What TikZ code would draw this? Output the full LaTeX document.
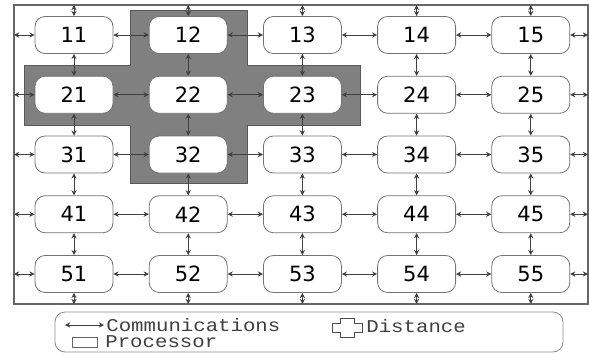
\documentclass[tikz,border=0pt]{standalone}
\usepackage{fontspec}
\setmainfont{DejaVu Sans}
\newfontfamily\legfont[FakeStretch=1.15]{Liberation Mono}
\usetikzlibrary{arrows.meta,calc}

\begin{document}
\begin{tikzpicture}[x=0.5pt,y=-0.5pt,
    proc/.style={draw=black!55, fill=white, rounded corners=5pt, minimum width=39pt,
      minimum height=18.5pt, inner sep=0pt, font=\fontsize{10.5}{10.5}\selectfont},
    link/.style={<->, >={Stealth[length=2.6pt,width=2.6pt]}, black!75, line width=0.5pt},
    legtext/.style={anchor=west, inner sep=0pt, text=black!75, font=\legfont\fontsize{9}{9}\selectfont}]
  \useasboundingbox (0,0) rectangle (589,354);
  % distance region
  \filldraw[fill=black!50, draw=black!65] (130,10) -- (247,10) -- (247,65) -- (360,65) -- (360,125)
    -- (247,125) -- (247,183) -- (130,183) -- (130,125) -- (24,125) -- (24,65) -- (130,65) -- cycle;
  \draw[black!60, line width=0.8pt] (14,5) rectangle (588,304);
  % processors
  \foreach \i in {1,...,5}
    \foreach \j in {1,...,5}
      \node[proc] (n\i\j) at ({74+114.2*(\j-1)},{35+59.75*(\i-1)}) {\i\j};
  % wrap-around ends on the frame
  \foreach \k in {1,...,5} {
    \coordinate (top\k) at (n1\k |- 0,5);
    \coordinate (bot\k) at (n5\k |- 0,304);
    \coordinate (lft\k) at (n\k1 -| 14,0);
    \coordinate (rgt\k) at (n\k5 -| 588,0);
  }
  % communications
  \foreach \i in {1,...,5} {
    \foreach \j/\k in {1/2,2/3,3/4,4/5} {
      \draw[link] (n\i\j) -- (n\i\k);
      \draw[link] (n\j\i) -- (n\k\i);
    }
    \draw[link] (lft\i) -- (n\i1);
    \draw[link] (n\i5) -- (rgt\i);
    \draw[link] (top\i) -- (n1\i);
    \draw[link] (n5\i) -- (bot\i);
  }
  % legend
  \draw[black!45, rounded corners=5pt] (55,312) rectangle (563,352);
  \coordinate (ca) at (65,325);
  \coordinate (cb) at (104,325);
  \draw[link] (ca) -- (cb);
  \node[legtext] (comm) at (106,325) {Communications};
  \node[draw=black!60, minimum width=12.5pt, minimum height=5pt, inner sep=0pt] (prockey) at (84.5,342) {};
  \node[legtext] (procl) at (105,342) {Processor};
  \draw[black!70] (340,318) -- (354,318) -- (354,323) -- (362,323) -- (362,332) -- (354,332) -- (354,337)
    -- (340,337) -- (340,332) -- (332,332) -- (332,323) -- (340,323) -- cycle;
  \node[legtext] (dist) at (366,326) {Distance};
\end{tikzpicture}
\end{document}
